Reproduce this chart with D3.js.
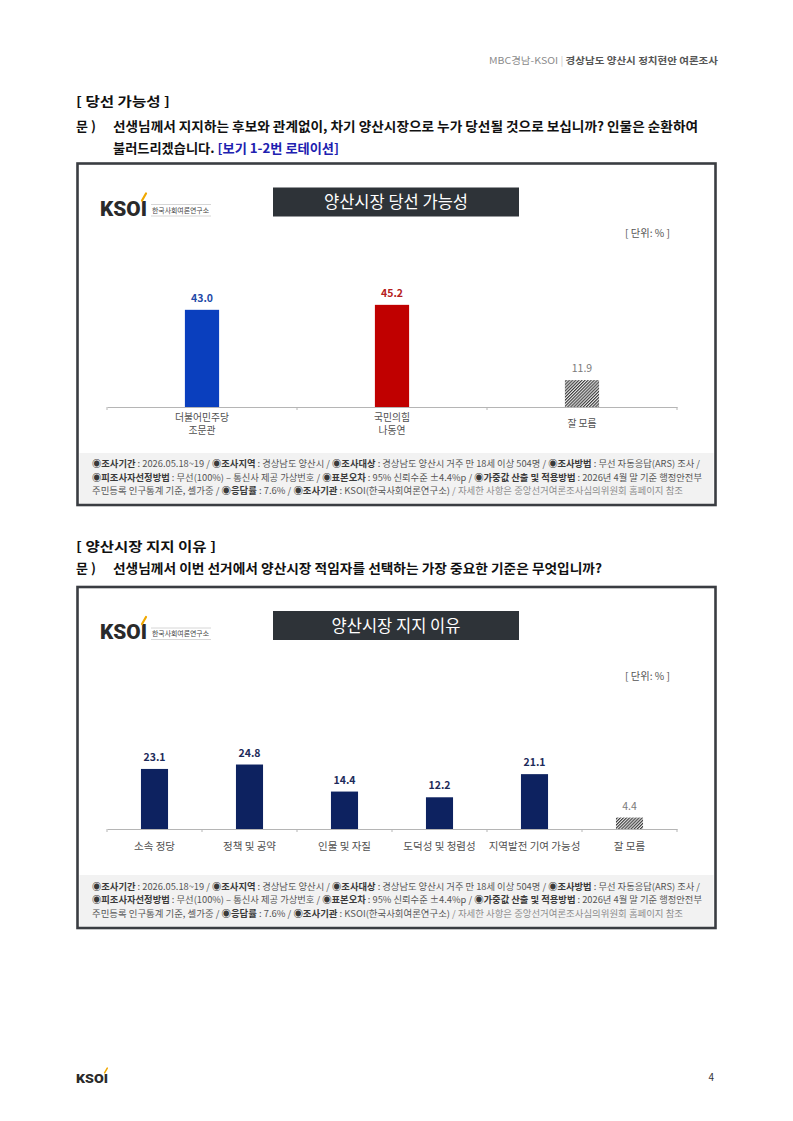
<!DOCTYPE html>
<html><head><meta charset="utf-8">
<script src="https://cdn.jsdelivr.net/npm/d3@7"></script>
<style>
html,body{margin:0;padding:0;background:#fff;}
svg{display:block;font-family:"Noto Sans CJK KR","Noto Sans",sans-serif;}
</style></head>
<body>
<svg id="page" width="793" height="1121"></svg>
<script>
// ---------- DATA ----------
const chart1Title = "양산시장 당선 가능성";
const chart1Categories = [["더불어민주당","조문관"],["국민의힘","나동연"],["잘 모름"]];
const chart1Values = [43.0, 45.2, 11.9];
const chart1Kinds = ["blue","red","hatch"];

const chart2Title = "양산시장 지지 이유";
const chart2Categories = [["소속 정당"],["정책 및 공약"],["인물 및 자질"],["도덕성 및 청렴성"],["지역발전 기여 가능성"],["잘 모름"]];
const chart2Values = [23.1, 24.8, 14.4, 12.2, 21.1, 4.4];
const chart2Kinds = ["navy","navy","navy","navy","navy","hatch"];

const unitLabel = "[ 단위: % ]";

const footerLines = [
  [["◉조사기간","b"],[" : 2026.05.18~19 / ","n"],["◉조사지역","b"],[" : 경상남도 양산시 / ","n"],["◉조사대상","b"],[" : 경상남도 양산시 거주 만 18세 이상 504명 / ","n"],["◉조사방법","b"],[" : 무선 자동응답(ARS) 조사 /","n"]],
  [["◉피조사자선정방법","b"],[" : 무선(100%) – 통신사 제공 가상번호 / ","n"],["◉표본오차","b"],[" : 95% 신뢰수준 ±4.4%p / ","n"],["◉가중값 산출 및 적용방법","b"],[" : 2026년 4월 말 기준 행정안전부","n"]],
  [["주민등록 인구통계 기준, 셀가중 / ","n"],["◉응답률","b"],[" : 7.6% / ","n"],["◉조사기관","b"],[" : KSOI(한국사회여론연구소) ","n"],["/ 자세한 사항은 중앙선거여론조사심의위원회 홈페이지 참조","l"]]
];
const footerWidths = [608, 610, 591];

// ---------- PAGE ----------
const svg = d3.select("#page");
const defs = svg.append("defs");
const pat = defs.append("pattern").attr("id","hatch").attr("patternUnits","userSpaceOnUse")
  .attr("width",2.2).attr("height",2.2).attr("patternTransform","rotate(45)");
pat.append("rect").attr("width",2.2).attr("height",2.2).attr("fill","#e8e8e8");
pat.append("rect").attr("width",1.1).attr("height",2.2).attr("fill","#3c3c3c");

const colors = {blue:"#0a3fbe", red:"#c00000", navy:"#0d2260", hatch:"url(#hatch)"};
const labelColors = {blue:"#1f4aa8", red:"#b52020", navy:"#1d2b5a", hatch:"#7a7a7a"};

// header
const hdr = svg.append("text").attr("x",718).attr("y",64).attr("text-anchor","end")
  .attr("font-size",9.6).attr("textLength",229).attr("lengthAdjust","spacingAndGlyphs");
hdr.append("tspan").attr("fill","#8a8a8a").text("MBC경남-KSOI ");
hdr.append("tspan").attr("fill","#c8c8c8").text("| ");
hdr.append("tspan").attr("fill","#555").attr("font-weight",700).text("경상남도 양산시 정치현안 여론조사");

function qText(x,y,str,len){
  const t = svg.append("text").attr("x",x).attr("y",y).attr("font-size",13).attr("font-weight",700).attr("fill","#111");
  if(len) t.attr("textLength",len).attr("lengthAdjust","spacingAndGlyphs");
  return t.text(str);
}
// section 1 text
qText(76,106,"[ 당선 가능성 ]",94);
qText(76,131,"문 )");
qText(113,131,"선생님께서 지지하는 후보와 관계없이, 차기 양산시장으로 누가 당선될 것으로 보십니까? 인물은 순환하여",585);
const q2 = svg.append("text").attr("x",113).attr("y",153).attr("font-size",13).attr("font-weight",700)
  .attr("textLength",226).attr("lengthAdjust","spacingAndGlyphs");
q2.append("tspan").attr("fill","#111").text("불러드리겠습니다. ");
q2.append("tspan").attr("fill","#2020b0").text("[보기 1-2번 로테이션]");
// section 2 text
qText(76,551,"[ 양산시장 지지 이유 ]",140);
qText(76,573,"문 )");
qText(113,573,"선생님께서 이번 선거에서 양산시장 적임자를 선택하는 가장 중요한 기준은 무엇입니까?",489);

function logo(g,x,y,s,withSub){
  g.append("text").attr("x",x).attr("y",y).attr("font-family","Roboto, 'Noto Sans', sans-serif")
    .attr("font-weight",900).attr("font-size",20*s).attr("fill","#2a2a2a")
    .attr("textLength",47*s).attr("lengthAdjust","spacingAndGlyphs").text("KSOI");
  g.append("path").attr("d",`M${x+42*s},${y-15*s} L${x+46*s},${y-22*s}`)
    .attr("stroke","#f0a800").attr("stroke-width",2.2*s).attr("stroke-linecap","round");
  if(!withSub) return;
  g.append("line").attr("x1",x+51*s).attr("x2",x+111*s).attr("y1",y-11*s).attr("y2",y-11*s).attr("stroke","#ccc").attr("stroke-width",0.8);
  g.append("line").attr("x1",x+51*s).attr("x2",x+111*s).attr("y1",y+0.5*s).attr("y2",y+0.5*s).attr("stroke","#ccc").attr("stroke-width",0.8);
  g.append("text").attr("x",x+52*s).attr("y",y-3*s).attr("font-size",7*s).attr("fill","#444")
    .attr("textLength",57*s).attr("lengthAdjust","spacingAndGlyphs").text("한국사회여론연구소");
}

function chart(o){
  const g = svg.append("g");
  g.append("rect").attr("x",o.x0+2).attr("y",o.footY).attr("width",o.x1-o.x0-4).attr("height",o.y1-o.footY-2).attr("fill","#f2f2f2");
  g.append("rect").attr("x",o.x0).attr("y",o.y0).attr("width",o.x1-o.x0).attr("height",o.y1-o.y0)
    .attr("fill","none").attr("stroke","#3a3d42").attr("stroke-width",2.6);
  logo(g,100,o.y0+52,1,true);
  g.append("rect").attr("x",273).attr("y",o.y0+24).attr("width",246).attr("height",29).attr("fill","#2e3338");
  g.append("text").attr("x",396).attr("y",o.y0+44.5).attr("text-anchor","middle").attr("font-size",16.5)
    .attr("fill","#fff").text(o.title);
  g.append("text").attr("x",670).attr("y",o.unitY).attr("text-anchor","end").attr("font-size",10)
    .attr("fill","#555").attr("textLength",45).attr("lengthAdjust","spacingAndGlyphs").text(unitLabel);

  const x = d3.scaleBand().domain(d3.range(o.values.length)).range([107,677]).padding(0);
  const y = d3.scaleLinear().domain([0,50]).range([o.base, o.base-o.pxPer50]);
  const bw = x.bandwidth()*o.barFrac;

  const axis = d3.axisBottom(x).tickSize(0).tickFormat("");
  const ax = g.append("g").attr("transform",`translate(0,${o.base})`).call(axis);
  ax.select(".domain").attr("stroke","#b5b5b5").attr("stroke-width",1);
  ax.selectAll(".tick").remove();
  const bounds = d3.range(o.values.length+1).map(i=> i<o.values.length ? x(i) : x(i-1)+x.bandwidth());
  g.selectAll("line.bt").data(bounds).join("line").attr("class","bt")
    .attr("x1",d=>d).attr("x2",d=>d).attr("y1",o.base).attr("y2",o.base+3).attr("stroke","#b5b5b5");

  g.selectAll("rect.bar").data(o.values).join("rect").attr("class","bar")
    .attr("x",(d,i)=>x(i)+x.bandwidth()/2-bw/2).attr("width",bw)
    .attr("y",d=>y(d)).attr("height",d=>y(0)-y(d))
    .attr("fill",(d,i)=>colors[o.kinds[i]]);
  g.selectAll("text.val").data(o.values).join("text").attr("class","val")
    .attr("x",(d,i)=>x(i)+x.bandwidth()/2).attr("y",d=>y(d)-8)
    .attr("text-anchor","middle").attr("font-size",10.5)
    .attr("font-weight",(d,i)=>o.kinds[i]==="hatch"?400:700)
    .attr("fill",(d,i)=>labelColors[o.kinds[i]]).text(d=>d.toFixed(1));
  o.cats.forEach((lines,i)=>{
    const t = g.append("text").attr("x",x(i)+x.bandwidth()/2).attr("text-anchor","middle")
      .attr("font-size",o.catSize).attr("fill","#505050");
    const startY = o.base + o.catOffset + (lines.length===1 ? o.catLine/2 : 0);
    lines.forEach((l,j)=> t.append("tspan").attr("x",x(i)+x.bandwidth()/2).attr("y",startY+j*o.catLine).text(l));
  });
  footerLines.forEach((segs,li)=>{
    const t = g.append("text").attr("x",92).attr("y",o.footTextY+li*13.5).attr("font-size",9.2)
      .attr("textLength",footerWidths[li]).attr("lengthAdjust","spacingAndGlyphs");
    segs.forEach(([s,k])=> t.append("tspan").text(s)
      .attr("font-weight",k==="b"?700:400)
      .attr("fill",k==="b"?"#3a3a3a":(k==="l"?"#8c8c8c":"#555")));
  });
}

chart({x0:77.5,x1:715.5,y0:163.5,y1:505,footY:453,footTextY:467,title:chart1Title,unitY:237,
  values:chart1Values,kinds:chart1Kinds,cats:chart1Categories,base:407,pxPer50:113,barFrac:0.18,
  catSize:9.8,catOffset:14,catLine:12.5});
chart({x0:77.5,x1:715.5,y0:587,y1:928,footY:875,footTextY:889.5,title:chart2Title,unitY:680,
  values:chart2Values,kinds:chart2Kinds,cats:chart2Categories,base:829,pxPer50:130,barFrac:0.285,
  catSize:10.5,catOffset:21,catLine:0});

// page footer
logo(svg.append("g"),76,1083,0.68,false);
svg.append("text").attr("x",714).attr("y",1081).attr("text-anchor","end").attr("font-size",10).attr("fill","#333").text("4");
</script>
</body></html>
